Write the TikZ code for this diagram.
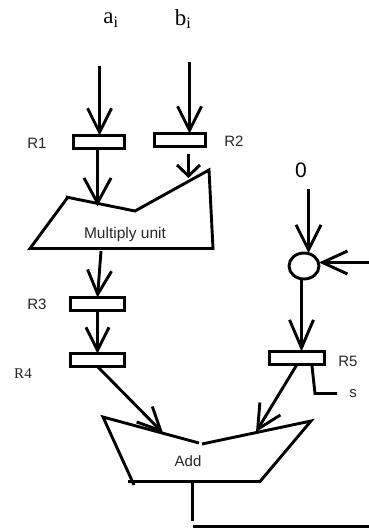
\documentclass[tikz,border=0pt]{standalone}
\usepackage{fontspec}
\setmainfont{Liberation Sans}
\newfontfamily\serifface{Liberation Serif}
\usetikzlibrary{arrows.meta,shapes.geometric}
\tikzset{
  x=1pt,y=-1pt,
  wire/.style={line width=2.9pt,line join=miter},
  flow/.style 2 args={wire,-{Straight Barb[length=#1pt,width=#2pt,line width=2.9pt]}},
  regbox/.style={draw,line width=2.9pt,minimum height=13pt,inner sep=0pt,outer sep=0pt,fill=white},
  lab/.style={inner sep=0pt,font=\fontsize{15}{15}\selectfont,text=black!85},
  seriflab/.style={inner sep=0pt,font=\serifface\fontsize{15}{15}\selectfont,text=black!85},
  head/.style={inner sep=0pt,font=\serifface\fontsize{23}{23}\selectfont},
}
\begin{document}
\begin{tikzpicture}
\useasboundingbox (0,0) rectangle (369,530);
% labels
\node[head] (ai) at (111,20) {a\textsubscript{i}};
\node[head] (bi) at (183,19) {b\textsubscript{i}};
\node[lab] (l1) at (37,143) {R1};
\node[lab] (l2) at (234,141) {R2};
\node[lab] (l3) at (37,304) {R3};
\node[seriflab] (l4) at (23,374) {R4};
\node[lab] (l5) at (348,361) {R5};
\node[lab] (ls) at (353,394) {s};
\node[inner sep=0pt,font=\fontsize{21}{21}\selectfont] (zero) at (301,170) {0};
% registers
\node[regbox,minimum width=51pt] (r1) at (99,142) {};
\node[regbox,minimum width=51pt] (r2) at (180,140) {};
\node[regbox,minimum width=54pt] (r3) at (97.5,304) {};
\node[regbox,minimum width=54pt] (r4) at (97.5,360) {};
\node[regbox,minimum width=55pt] (r5) at (297,358) {};
\node[draw,ellipse,line width=2.9pt,minimum width=30pt,minimum height=26pt,inner sep=0pt,outer sep=0pt] (sum) at (304,266) {};
% units
\coordinate (m1) at (68,197); \coordinate (m2) at (135,211); \coordinate (m3) at (209,170);
\coordinate (m4) at (213,248.5); \coordinate (m5) at (30,248.5);
\draw[wire] (66,197) -- (m2) -- (m3) -- (m4) -- (m5) -- (m1);
\node[lab] (mul) at (125,234) {\fontsize{15.5}{15.5}\selectfont Multiply unit};
\coordinate (a1) at (103,417); \coordinate (a2) at (199,443); \coordinate (a3) at (202,444);
\coordinate (a4) at (311,421); \coordinate (a5) at (260,481.5); \coordinate (a6) at (128,481.5);
\coordinate (a7) at (134,485);
\draw[wire] (a7) -- (a1) -- (a2);
\draw[wire] (a3) -- (a4) -- (a5) -- (a6);
\node[lab] (add) at (188,461) {Add};
% free ends and targets
\coordinate (ain) at (99.5,66);
\coordinate (bin) at (189.5,62);
\coordinate (r1out) at (97.5,149);
\coordinate (r2out) at (188.5,154);
\coordinate (mtipa) at (97.5,206);
\coordinate (mtipb) at (188.5,178);
\coordinate (mout) at (101,251);
\coordinate (sumout) at (301.5,279);
\coordinate (zin) at (308.5,189);
\coordinate (rin) at (369,262.5);
\coordinate (r5s0) at (312,366);
\coordinate (r5s1) at (315,393.5);
\coordinate (r5s2) at (337,393.5);
\coordinate (atipl) at (163,433);
\coordinate (atipr) at (256,432);
\coordinate (out0) at (192.5,481);
\coordinate (out1) at (192.5,521);
\coordinate (out2) at (193,526.5);
\coordinate (out3) at (369,526.5);
% connectors
\draw[flow={24}{24}] (ain) -- (ain |- r1.north);
\draw[flow={24}{24}] (bin) -- (bin |- r2.north);
\draw[flow={25}{27}] (r1out |- r1.south) -- (mtipa);
\draw[flow={11}{23}] (r2out) -- (mtipb);
\draw[flow={24}{24}] (mout) -- (r3.north);
\draw[flow={23}{23}] (r3.south) -- (r4.north);
\draw[flow={23}{22}] (r4.south) -- (atipl);
\draw[flow={28}{24}] (sumout) -- (sumout |- r5.north);
\draw[flow={24}{24}] (r5.south) -- (atipr);
\draw[flow={25}{25}] (zin) -- (zin |- sum.north);
\draw[flow={25}{23}] (rin) -- (sum.east |- rin);
\draw[wire] (r5s0) -- (r5s1) -- (r5s2);
\draw[wire] (out0) -- (out1);
\draw[wire] (out2) -- (out3);
\end{tikzpicture}
\end{document}
